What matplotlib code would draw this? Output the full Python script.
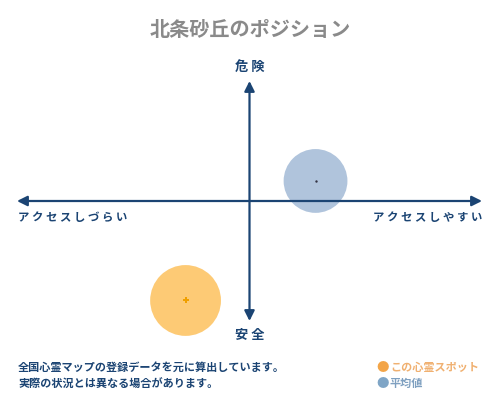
import matplotlib
matplotlib.use("Agg")
import matplotlib.pyplot as plt

plt.rcParams['font.family'] = ['Noto Sans CJK JP', 'DejaVu Sans']

title = "北条砂丘のポジション"
x_labels = ["アクセスしづらい", "アクセスしやすい"]
y_labels = ["安全", "危険"]
names = ["この心霊スポット", "平均値"]
xs = [-27.5, 28.4]     # access: - hard, + easy
ys = [-82.9, 16.7]     # danger: - safe, + dangerous
sizes = [2600, 2110]
notes = ["全国心霊マップの登録データを元に算出しています。",
         "実際の状況とは異なる場合があります。"]

navy = "#1b4473"
fill_colors = ["#fdca75", "#b0c4dc"]
dot_colors = ["#f0a000", "#333344"]
legend_colors = ["#f3a548", "#7fa5c6"]
text_colors = ["#f0b070", "#7fa0c0"]

fig = plt.figure(figsize=(5, 4), dpi=100)
fig.patch.set_facecolor("white")

ax = fig.add_axes([17 / 500, 79 / 400, 465 / 500, 240 / 400])
ax.set_xlim(-100, 100)
ax.set_ylim(-100, 100)
ax.axis("off")

# bubbles
ax.scatter(xs, ys, s=sizes, c=fill_colors, edgecolors="none", zorder=1, clip_on=False)
ax.scatter(xs[:1], ys[:1], s=14, marker="P", c=dot_colors[:1], linewidths=0, zorder=3)
ax.scatter(xs[1:], ys[1:], s=3, c=dot_colors[1:], linewidths=0, zorder=3)

# cross arrows
arrow = dict(arrowstyle="<|-|>,head_length=0.6,head_width=0.3", color=navy,
             lw=1.6, shrinkA=0, shrinkB=0)
ax.annotate("", xy=(100, 0), xytext=(-100, 0), arrowprops=arrow, zorder=2)
ax.annotate("", xy=(0, 100), xytext=(0, -100), arrowprops=arrow, zorder=2)

fig.text(0.5, 1 - 29 / 400, title, ha="center", va="center", fontsize=14.5,
         color="#8a8a8a", fontweight="bold")
fig.text(0.5, 1 - 67 / 400, " ".join(y_labels[1]), ha="center", va="center",
         fontsize=9.5, color=navy, fontweight="bold")
fig.text(0.5, 1 - 335 / 400, " ".join(y_labels[0]), ha="center", va="center",
         fontsize=9.5, color=navy, fontweight="bold")
fig.text(18 / 500, 1 - 217 / 400, " ".join(x_labels[0]), ha="left", va="center",
         fontsize=8.2, color=navy, fontweight="bold")
fig.text(482 / 500, 1 - 217 / 400, " ".join(x_labels[1]), ha="right", va="center",
         fontsize=8.2, color=navy, fontweight="bold")

for i, line in enumerate(notes):
    fig.text(18 / 500, 1 - (367 + 17 * i) / 400, line, ha="left", va="center",
             fontsize=8, color=navy, fontweight="bold")

for i, name in enumerate(names):
    y = 1 - (367 + 17 * i) / 400
    fig.text(383 / 500, y, "●", ha="center", va="center", fontsize=9,
             color=legend_colors[i])
    fig.text(390 / 500, y, name, ha="left", va="center", fontsize=8,
             color=text_colors[i], fontweight="bold")

fig.savefig("out.png", dpi=100, facecolor="white")
